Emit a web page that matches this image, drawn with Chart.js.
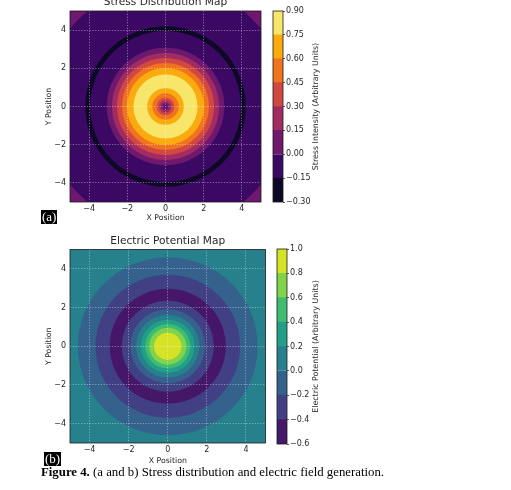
<!DOCTYPE html>
<html>
<head>
<meta charset="utf-8">
<script src="https://cdn.jsdelivr.net/npm/chart.js@4.4.1/dist/chart.umd.min.js"></script>
<style>
    body { margin: 0; background: #fff; width: 511px; height: 490px; overflow: hidden; position: relative; }
    canvas { position: absolute; }
    .tag { position: absolute; background: #000; color: #fff; font: 13px "Liberation Serif", serif; line-height: 14px; padding: 0 1px; }
    #caption { position: absolute; left: 41px; top: 465px; font: 12.8px "Liberation Serif", serif; line-height: 14px; white-space: nowrap; color: #000; }
</style>
</head>
<body>
<canvas id="mapA" width="268" height="230" style="left:0;top:0"></canvas>
<canvas id="barA" width="80" height="230" style="left:262px;top:0"></canvas>
<canvas id="mapB" width="270" height="240" style="left:0;top:232px"></canvas>
<canvas id="barB" width="80" height="240" style="left:266px;top:232px"></canvas>
<div class="tag" style="left:41px;top:210px">(a)</div>
<div class="tag" style="left:44px;top:452px">(b)</div>
<div id="caption"><b>Figure 4.</b> (a and b) Stress distribution and electric field generation.</div>

<script>
// axis ticks shared by both maps
const axisTicks = [-4, -2, 0, 2, 4];

// (a) stress map: concentric bands, outer radius of each band and the value inside it
const stressLevels = [-0.30, -0.15, 0.00, 0.15, 0.30, 0.45, 0.60, 0.75, 0.90];
const stressRadii  = [0.08, 0.20, 0.33, 0.47, 0.69, 0.96, 1.68, 2.02, 2.28, 2.54, 2.80, 3.08, 3.95, 4.20, 6.45, 8.00];
const stressValues = [-0.05, 0.07, 0.22, 0.37, 0.52, 0.67, 0.82, 0.67, 0.52, 0.37, 0.22, 0.07, -0.05, -0.20, -0.05, 0.07];

// (b) potential map
const potLevels = [-0.6, -0.4, -0.2, 0.0, 0.2, 0.4, 0.6, 0.8, 1.0];
const potRadii  = [0.70, 0.95, 1.15, 1.37, 1.62, 1.91, 2.35, 2.97, 3.70, 4.60, 8.00];
const potValues = [0.9, 0.7, 0.5, 0.3, 0.1, -0.1, -0.3, -0.5, -0.3, -0.1, 0.1];

const infernoColors = ["#0d0825", "#3b0964", "#6e186e", "#a22c61", "#d14843", "#f1731d", "#fbab0f", "#f8e66a"];
const viridisColors = ["#461769", "#424085", "#34628d", "#27818d", "#229f87", "#40bc72", "#82d34c", "#d5e226"];

const tickFont = { family: "DejaVu Sans", size: 8 };
const labelFont = { family: "DejaVu Sans", size: 7.8 };
const textColor = "#262626";

function fmt(v, digits) {
    if (Math.abs(v) < 1e-9) v = 0;
    return (v < 0 ? "\u2212" : "") + Math.abs(v).toFixed(digits);
}

function colorFor(value, levels, colors) {
    for (let i = 0; i < colors.length; i++) {
        if (value >= levels[i] && value < levels[i + 1]) return colors[i];
    }
    return colors[colors.length - 1];
}

const ringPlugin = {
    id: "rings",
    beforeDatasetsDraw(chart, args, opts) {
        const { ctx, chartArea, scales: { x, y } } = chart;
        const cx = x.getPixelForValue(0);
        const cy = y.getPixelForValue(0);
        ctx.save();
        ctx.beginPath();
        ctx.rect(chartArea.left, chartArea.top, chartArea.width, chartArea.height);
        ctx.clip();
        for (let i = opts.radii.length - 1; i >= 0; i--) {
            const rx = x.getPixelForValue(opts.radii[i]) - cx;
            const ry = cy - y.getPixelForValue(opts.radii[i]);
            ctx.beginPath();
            ctx.ellipse(cx, cy, rx, ry, 0, 0, Math.PI * 2);
            ctx.fillStyle = colorFor(opts.values[i], opts.levels, opts.colors);
            ctx.fill();
        }
        ctx.restore();
    }
};

const framePlugin = {
    id: "frame",
    afterDraw(chart, args, opts) {
        const { ctx, chartArea } = chart;
        ctx.save();
        ctx.strokeStyle = "#1a1a1a";
        ctx.lineWidth = 0.8;
        ctx.strokeRect(chartArea.left, chartArea.top, chartArea.width, chartArea.height);
        ctx.fillStyle = textColor;
        if (opts.title) {
            ctx.font = "10.6px 'DejaVu Sans'";
            ctx.textAlign = "center";
            ctx.textBaseline = "middle";
            ctx.fillText(opts.title, (chartArea.left + chartArea.right) / 2, opts.titleY);
        }
        if (opts.sideLabel) {
            ctx.font = "7.9px 'DejaVu Sans'";
            ctx.translate(opts.sideX, (chartArea.top + chartArea.bottom) / 2);
            ctx.rotate(-Math.PI / 2);
            ctx.textAlign = "center";
            ctx.textBaseline = "middle";
            ctx.fillText(opts.sideLabel, 0, 0);
        }
        ctx.restore();
    }
};

function makeMap(id, title, titleY, radii, values, levels, colors, pad, xHeight, xTitlePad) {
    return new Chart(document.getElementById(id), {
        type: "scatter",
        data: { datasets: [{ data: [] }] },
        options: {
            responsive: false,
            animation: false,
            layout: { padding: pad },
            plugins: {
                legend: { display: false },
                tooltip: { enabled: false },
                rings: { radii, values, levels, colors },
                frame: { title, titleY }
            },
            scales: {
                x: {
                    min: -5, max: 5,
                    afterBuildTicks: s => { s.ticks = axisTicks.map(v => ({ value: v })); },
                    afterFit: s => { s.height = xHeight; },
                    ticks: { font: tickFont, color: textColor, padding: 2, maxRotation: 0, callback: v => fmt(v, 0) },
                    grid: { color: "rgba(255,255,255,0.5)", lineWidth: 0.8, z: 1, drawTicks: false },
                    border: { display: false, dash: [1.2, 1.6] },
                    title: { display: true, text: "X Position", font: labelFont, color: textColor, padding: { bottom: xTitlePad } }
                },
                y: {
                    min: -5, max: 5,
                    afterBuildTicks: s => { s.ticks = axisTicks.map(v => ({ value: v })); },
                    afterFit: s => { s.width = 70; },
                    ticks: { font: tickFont, color: textColor, padding: 4, callback: v => fmt(v, 0) },
                    grid: { color: "rgba(255,255,255,0.5)", lineWidth: 0.8, z: 1, drawTicks: false },
                    border: { display: false, dash: [1.2, 1.6] },
                    title: { display: true, text: "Y Position", font: labelFont, color: textColor, padding: { top: 44.6 } }
                }
            }
        },
        plugins: [ringPlugin, framePlugin]
    });
}

function makeBar(id, levels, colors, digits, label, pad, sideX) {
    const datasets = colors.map((c, i) => ({
        data: [[levels[i], levels[i + 1]]],
        backgroundColor: c,
        borderWidth: 0,
        grouped: false,
        barPercentage: 1,
        categoryPercentage: 1
    }));
    return new Chart(document.getElementById(id), {
        type: "bar",
        data: { labels: [""], datasets },
        options: {
            responsive: false,
            animation: false,
            layout: { padding: pad },
            plugins: {
                legend: { display: false },
                tooltip: { enabled: false },
                frame: { sideLabel: label, sideX }
            },
            scales: {
                x: { display: false },
                y: {
                    position: "right",
                    min: levels[0], max: levels[levels.length - 1],
                    afterBuildTicks: s => { s.ticks = levels.map(v => ({ value: v })); },
                    afterFit: s => { s.width = 59; },
                    ticks: { font: tickFont, color: textColor, padding: 1, callback: v => fmt(v, digits) },
                    grid: { drawOnChartArea: false, drawTicks: true, tickLength: 2, color: "#333", lineWidth: 0.8 },
                    border: { display: false }
                }
            }
        },
        plugins: [framePlugin]
    });
}

makeMap("mapA", "Stress Distribution Map", 2.5, stressRadii, stressValues, stressLevels, infernoColors,
    { left: 0, top: 11, right: 7, bottom: 0 }, 28, 7.4);
makeBar("barA", stressLevels, infernoColors, 2, "Stress Intensity (Arbitrary Units)",
    { left: 11, top: 11, right: 0, bottom: 28 }, 54);

makeMap("mapB", "Electric Potential Map", 9, potRadii, potValues, potLevels, viridisColors,
    { left: 0, top: 17.5, right: 4.5, bottom: 0 }, 29, 6.7);
makeBar("barB", potLevels, viridisColors, 1, "Electric Potential (Arbitrary Units)",
    { left: 11, top: 17, right: 0, bottom: 28 }, 50);
</script>
</body>
</html>
